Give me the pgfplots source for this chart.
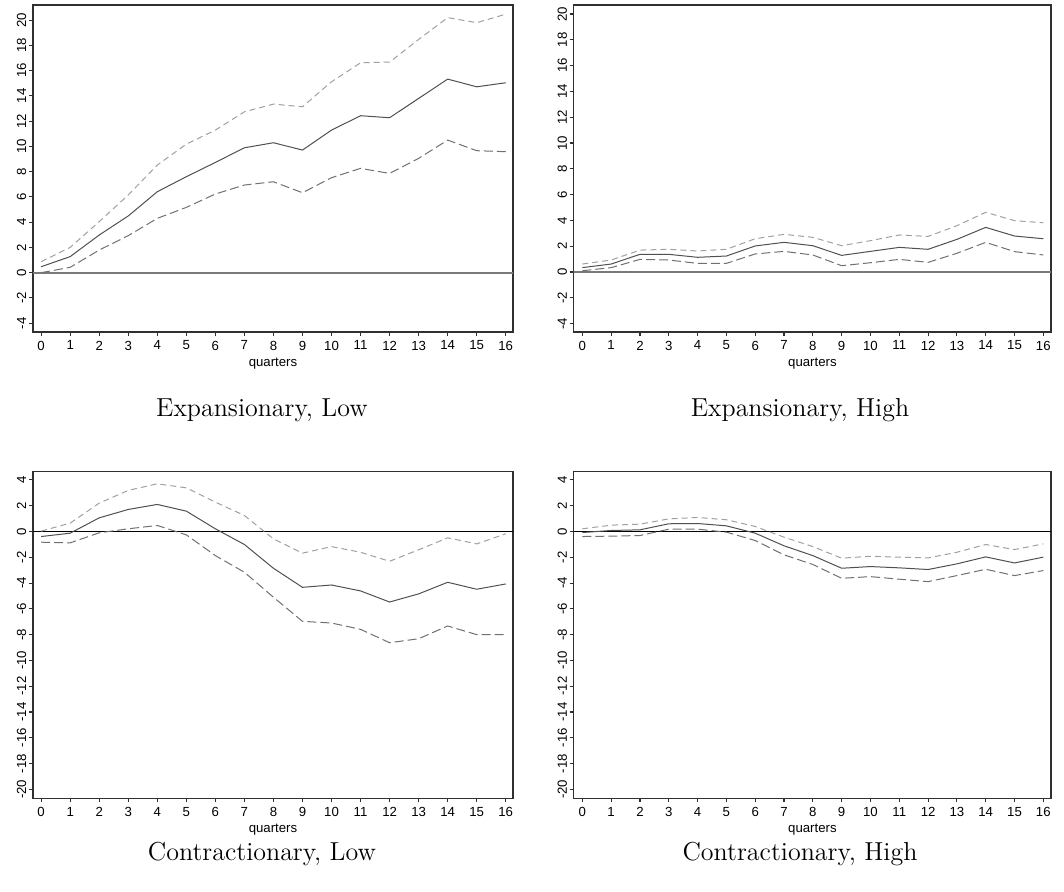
\documentclass[border=0pt]{standalone}
\usepackage{fontspec}
\setsansfont{Liberation Sans}
\usepackage{pgfplots}
\pgfplotsset{compat=1.18}
\definecolor{mid}{HTML}{505050}
\definecolor{upc}{HTML}{A0A0A0}
\definecolor{loc}{HTML}{707070}
\definecolor{frame}{HTML}{303030}
\definecolor{zer}{HTML}{7A7A7A}
\pgfplotsset{
  irf/.style={
    scale only axis, anchor=north west,
    axis line style={frame, line width=0.65pt},
    tick style={frame, line width=0.55pt},
    tick align=outside, major tick length=2pt,
    xtick pos=bottom, ytick pos=left,
    xtick={0,...,16}, xticklabels={0,1,2,3,4,5,6,7,8,9,10,11,12,13,14,15,16},
    ytick distance=2,
    /pgf/number format/assume math mode=true,
    tick label style={font=\fontsize{6.6}{7.5}\selectfont\sffamily},
    yticklabel style={rotate=90, anchor=south, inner sep=1.2pt},
    xticklabel style={inner sep=2.2pt},
    xlabel={quarters},
    xlabel style={font=\fontsize{6.6}{7.5}\selectfont\sffamily, inner sep=0pt, yshift=-1.5pt},
    clip=true,
  },
  cen/.style={mid, line width=0.5pt},
  upb/.style={upc, line width=0.5pt, dash pattern=on 3pt off 2pt},
  lob/.style={loc, line width=0.5pt, dash pattern=on 4.5pt off 2pt},
}
\begin{document}
\begin{tikzpicture}
\useasboundingbox (0,0) rectangle (532pt,-446pt);
% Panel 1
\begin{axis}[irf, at={(16.5pt,-2.5pt)}, width=240pt, height=163.5pt,
  xmin=-0.28, xmax=16.25, ymin=-4.7, ymax=21.2]
\addplot[zer, line width=0.9pt] coordinates {(-1,0) (17,0)};
\addplot[upb] coordinates {(0,0.87) (1,2.0) (2,4.04) (3,6.15) (4,8.52) (5,10.18) (6,11.29) (7,12.74) (8,13.35) (9,13.14) (10,15.12) (11,16.62) (12,16.68) (13,18.47) (14,20.2) (15,19.8) (16,20.47)};
\addplot[cen] coordinates {(0,0.47) (1,1.27) (2,2.98) (3,4.49) (4,6.41) (5,7.6) (6,8.73) (7,9.89) (8,10.29) (9,9.71) (10,11.29) (11,12.43) (12,12.27) (13,13.8) (14,15.33) (15,14.72) (16,15.04)};
\addplot[lob] coordinates {(0,0.0) (1,0.42) (2,1.79) (3,2.93) (4,4.3) (5,5.17) (6,6.23) (7,6.94) (8,7.2) (9,6.33) (10,7.52) (11,8.26) (12,7.86) (13,9.05) (14,10.5) (15,9.66) (16,9.58)};
\end{axis}
% Panel 2
\begin{axis}[irf, at={(286.85pt,-2.5pt)}, width=238.7pt, height=163.5pt,
  xmin=-0.3, xmax=16.27, ymin=-4.65, ymax=20.7]
\addplot[zer, line width=0.9pt] coordinates {(-1,0) (17,0)};
\addplot[upb] coordinates {(0,0.62) (1,0.93) (2,1.7) (3,1.76) (4,1.63) (5,1.76) (6,2.58) (7,2.92) (8,2.69) (9,2.04) (10,2.43) (11,2.87) (12,2.76) (13,3.59) (14,4.63) (15,3.98) (16,3.82)};
\addplot[cen] coordinates {(0,0.34) (1,0.62) (2,1.37) (3,1.37) (4,1.14) (5,1.24) (6,2.02) (7,2.3) (8,2.04) (9,1.29) (10,1.6) (11,1.91) (12,1.76) (13,2.53) (14,3.46) (15,2.79) (16,2.58)};
\addplot[lob] coordinates {(0,0.1) (1,0.34) (2,0.98) (3,0.93) (4,0.67) (5,0.67) (6,1.4) (7,1.6) (8,1.32) (9,0.49) (10,0.72) (11,0.98) (12,0.75) (13,1.45) (14,2.3) (15,1.58) (16,1.32)};
\end{axis}
% Panel 3
\begin{axis}[irf, at={(16.5pt,-235.85pt)}, width=240pt, height=163.3pt,
  xmin=-0.28, xmax=16.25, ymin=-20.7, ymax=4.64]
\addplot[black, line width=0.55pt] coordinates {(-1,0) (17,0)};
\addplot[upb] coordinates {(0,0.03) (1,0.65) (2,2.2) (3,3.19) (4,3.7) (5,3.39) (6,2.28) (7,1.24) (8,-0.57) (9,-1.68) (10,-1.17) (11,-1.61) (12,-2.31) (13,-1.42) (14,-0.49) (15,-0.96) (16,-0.18)};
\addplot[cen] coordinates {(0,-0.39) (1,-0.13) (2,1.06) (3,1.71) (4,2.1) (5,1.58) (6,0.21) (7,-1.01) (8,-2.85) (9,-4.33) (10,-4.15) (11,-4.61) (12,-5.47) (13,-4.84) (14,-3.94) (15,-4.48) (16,-4.07)};
\addplot[lob] coordinates {(0,-0.83) (1,-0.88) (2,-0.1) (3,0.21) (4,0.47) (5,-0.26) (6,-1.87) (7,-3.16) (8,-5.1) (9,-6.97) (10,-7.1) (11,-7.59) (12,-8.63) (13,-8.32) (14,-7.33) (15,-8.0) (16,-8.0)};
\end{axis}
% Panel 4
\begin{axis}[irf, at={(286.85pt,-235.85pt)}, width=238.7pt, height=163.3pt,
  xmin=-0.3, xmax=16.27, ymin=-20.7, ymax=4.64]
\addplot[black, line width=0.55pt] coordinates {(-1,0) (17,0)};
\addplot[upb] coordinates {(0,0.21) (1,0.49) (2,0.57) (3,0.98) (4,1.09) (5,0.91) (6,0.39) (7,-0.44) (8,-1.17) (9,-2.07) (10,-1.92) (11,-1.99) (12,-2.05) (13,-1.61) (14,-1.01) (15,-1.4) (16,-0.96)};
\addplot[cen] coordinates {(0,-0.08) (1,0.08) (2,0.13) (3,0.6) (4,0.62) (5,0.44) (6,-0.13) (7,-1.11) (8,-1.87) (9,-2.85) (10,-2.72) (11,-2.82) (12,-2.95) (13,-2.51) (14,-1.97) (15,-2.44) (16,-1.99)};
\addplot[lob] coordinates {(0,-0.39) (1,-0.36) (2,-0.31) (3,0.18) (4,0.18) (5,-0.05) (6,-0.7) (7,-1.81) (8,-2.56) (9,-3.63) (10,-3.5) (11,-3.7) (12,-3.89) (13,-3.42) (14,-2.93) (15,-3.42) (16,-3.03)};
\end{axis}
% Titles
\node[font=\fontsize{13}{15}\selectfont, anchor=base] at (131pt,-208.5pt) {Expansionary, Low};
\node[font=\fontsize{13}{15}\selectfont, anchor=base] at (400pt,-208.5pt) {Expansionary, High};
\node[font=\fontsize{13}{15}\selectfont, anchor=base] at (131pt,-430pt) {Contractionary, Low};
\node[font=\fontsize{13}{15}\selectfont, anchor=base] at (400pt,-430pt) {Contractionary, High};
\end{tikzpicture}
\end{document}
